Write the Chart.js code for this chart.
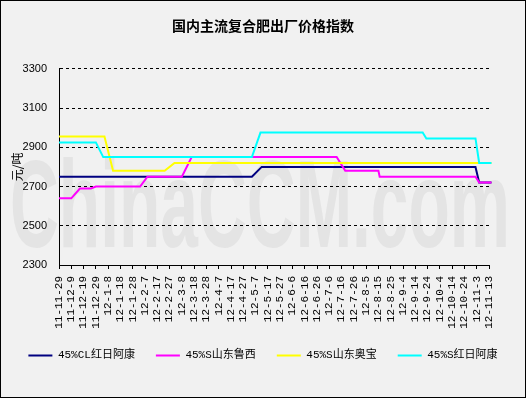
<!DOCTYPE html>
<html>
<head>
<meta charset="utf-8">
<script src="https://cdn.jsdelivr.net/npm/chart.js@4/dist/chart.umd.min.js"></script>
<style>
  body { margin: 0; background: #fff; }
  #wrap { width: 526px; height: 398px; }
  canvas { display: block; }
</style>
</head>
<body>
<div id="wrap"><canvas id="chart" width="526" height="398"></canvas></div>
<script>
// x values are days counted from 2011-11-29
const tickDays = [0, 10, 20, 30, 40, 50, 60, 70, 80, 90, 100, 110, 120, 130, 140, 150, 160, 170,
  180, 190, 200, 210, 220, 230, 240, 250, 260, 270, 280, 290, 300, 310, 320, 330, 340, 350];
const tickLabels = ['11-11-29', '11-12-9', '11-12-19', '11-12-29', '12-1-8', '12-1-18', '12-1-28',
  '12-2-7', '12-2-17', '12-2-27', '12-3-8', '12-3-18', '12-3-28', '12-4-7', '12-4-17', '12-4-27',
  '12-5-7', '12-5-17', '12-5-27', '12-6-6', '12-6-16', '12-6-26', '12-7-6', '12-7-16', '12-7-26',
  '12-8-5', '12-8-15', '12-8-25', '12-9-4', '12-9-14', '12-9-24', '12-10-4', '12-10-14',
  '12-10-24', '12-11-3', '12-11-13'];

const seriesNames = ['45%CL红日阿康', '45%S山东鲁西', '45%S山东奥宝', '45%S红日阿康'];
const seriesColors = ['#000080', '#ff00ff', '#ffff00', '#00ffff'];

const navyDays = [0, 157, 165, 339, 342, 352];
const navyValues = [2750, 2750, 2800, 2800, 2720, 2720];

const magentaDays = [0, 10, 17, 26, 30, 66, 72, 100, 108, 226, 233, 260, 261, 339, 342, 352];
const magentaValues = [2640, 2640, 2690, 2690, 2700, 2700, 2750, 2750, 2850, 2850, 2780, 2780, 2750, 2750, 2720, 2720];

const yellowDays = [0, 37, 44, 86, 94, 352];
const yellowValues = [2955, 2955, 2780, 2780, 2820, 2820];

const cyanDays = [0, 30, 36, 157, 164, 296, 299, 339, 342, 352];
const cyanValues = [2925, 2925, 2850, 2850, 2975, 2975, 2945, 2945, 2820, 2820];

const toPoints = (days, values) => days.map((d, i) => ({ x: d, y: values[i] }));
const allDays = [navyDays, magentaDays, yellowDays, cyanDays];
const allValues = [navyValues, magentaValues, yellowValues, cyanValues];

const backdrop = {
  id: 'backdrop',
  beforeDraw(chart) {
    const ctx = chart.ctx;
    ctx.save();
    ctx.fillStyle = '#f1f1f1';
    ctx.fillRect(0, 0, chart.width, chart.height);
    // faint site watermark
    ctx.font = 'bold 124px "Liberation Sans Narrow", "Liberation Sans", sans-serif';
    const w = ctx.measureText('ChinaCCM.com').width;
    ctx.translate(10, 213);
    ctx.scale(500 / w, 1);
    ctx.fillStyle = '#e4e4e4';
    ctx.fillText('ChinaCCM.com', 0, 0);
    ctx.restore();
  },
  afterDraw(chart) {
    const ctx = chart.ctx;
    ctx.save();
    ctx.strokeStyle = '#000';
    ctx.lineWidth = 1;
    ctx.strokeRect(0.5, 0.5, chart.width - 1, chart.height - 1);
    ctx.restore();
  }
};

new Chart(document.getElementById('chart'), {
  type: 'line',
  data: {
    datasets: seriesNames.map((name, i) => ({
      label: name,
      data: toPoints(allDays[i], allValues[i]),
      borderColor: seriesColors[i],
      backgroundColor: seriesColors[i],
      borderWidth: 2,
      pointRadius: 0,
      tension: 0,
      clip: false,
      order: 4 - i,
    }))
  },
  options: {
    responsive: false,
    devicePixelRatio: 1,
    animation: false,
    layout: { padding: { left: 0, right: 0, top: 0, bottom: 27 } },
    scales: {
      x: {
        type: 'linear',
        min: 0,
        max: 350,
        afterBuildTicks: (scale) => { scale.ticks = tickDays.map(v => ({ value: v })); },
        afterFit: (scale) => { scale.height = 64; },
        ticks: {
          autoSkip: false,
          maxRotation: 90,
          minRotation: 90,
          padding: 7,
          color: '#000',
          font: { family: '"Liberation Mono", monospace', size: 11 },
          callback: (v, i) => tickLabels[i],
        },
        grid: { drawOnChartArea: false, drawTicks: true, tickLength: 4, color: '#000' },
        border: { display: true, color: '#000', width: 1 },
      },
      y: {
        min: 2300,
        max: 3300,
        afterFit: (scale) => { scale.width = 59; },
        ticks: {
          stepSize: 200,
          padding: 12,
          color: '#000',
          font: { family: '"Liberation Sans", Arial, sans-serif', size: 11 },
          callback: (v) => String(v),
        },
        grid: { color: '#000', drawTicks: false },
        border: { display: true, color: '#000', width: 1, dash: [3, 3] },
        title: {
          display: true,
          text: '元/吨',
          color: '#000',
          padding: { top: 10, bottom: 0 },
          font: { family: '"Noto Sans CJK SC", sans-serif', size: 12 },
        },
      },
      yRight: {
        position: 'right',
        afterFit: (scale) => { scale.width = 37; },
        ticks: { display: false },
        grid: { display: false },
        border: { display: false },
      },
    },
    plugins: {
      title: {
        display: true,
        text: '国内主流复合肥出厂价格指数',
        color: '#000',
        padding: { top: 17, bottom: 35 },
        font: { family: '"Noto Sans CJK SC", sans-serif', size: 14, weight: 'bold' },
      },
      legend: {
        position: 'bottom',
        labels: {
          boxWidth: 24,
          boxHeight: 2,
          padding: 21,
          color: '#000',
          font: { family: '"Liberation Mono", "Noto Sans CJK SC", monospace', size: 11 },
          sort: (a, b) => a.datasetIndex - b.datasetIndex,
          generateLabels: (chart) => Chart.defaults.plugins.legend.labels.generateLabels(chart)
            .map(item => ({ ...item, lineWidth: 0 })),
        },
      },
      tooltip: { enabled: false },
    },
  },
  plugins: [backdrop],
});
</script>
</body>
</html>
